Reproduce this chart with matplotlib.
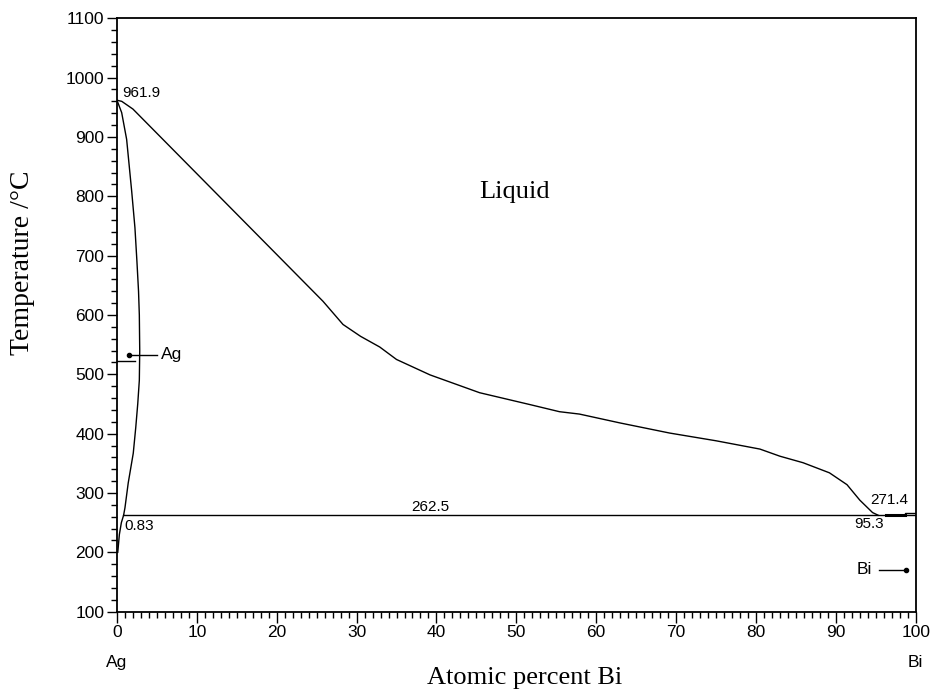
import matplotlib.pyplot as plt
from matplotlib.ticker import MultipleLocator
import matplotlib.transforms as mtransforms

# Ag-Bi phase diagram

# liquidus, Ag side to the eutectic
liq_x = [0, 0.6, 2.0, 25.8, 28.3, 30.5, 32.9,
         35.0, 39.2, 45.4, 51.7, 55.4, 57.9, 63.0, 69.2, 75.0, 80.5, 83.0,
         85.9, 89.2, 91.4, 93.0, 94.6, 95.3]
liq_t = [961.9, 960, 947, 623, 584, 564, 546,
         525, 499, 469, 449, 437, 433, 418, 401, 388, 374, 362,
         351, 334, 314, 288, 267, 262.5]

# solidus of the (Ag) solid solution
sol_x = [0, 0.59, 1.21, 1.84, 2.25, 2.5, 2.7, 2.8, 2.85, 2.8, 2.6, 2.35,
         2.04, 1.7, 1.41, 1.0, 0.83]
sol_t = [961.9, 941, 896, 809, 747, 690, 640, 600, 540, 490, 450, 410,
         367, 340, 317, 275, 262.5]

# solvus below the eutectic
solv_x = [0.83, 0.55, 0.3, 0.1]
solv_t = [262.5, 250, 230, 200]

eut_t = 262.5
eut_x = [0.83, 100]

# small features near pure Bi
bi_x = [98.6, 98.6, 100]
bi_t = [262.5, 267, 267]
bi_thick_x = [96.3, 98.6]

fig = plt.figure(figsize=(9.32, 6.95), dpi=100)
ax = fig.add_axes([0.1255, 0.1199, 0.857, 0.8538])

lw = 1.0
ax.plot(liq_x, liq_t, color='black', lw=lw)
ax.plot(sol_x, sol_t, color='black', lw=lw)
ax.plot(solv_x, solv_t, color='black', lw=lw)
ax.plot(eut_x, [eut_t, eut_t], color='black', lw=lw)
ax.plot(bi_x, bi_t, color='black', lw=lw)
ax.plot(bi_thick_x, [eut_t, eut_t], color='black', lw=2.2)
ax.plot([0, 2.25], [522, 522], color='black', lw=lw)

# pure element markers
ax.plot([1.54, 5.0], [533, 533], color='black', lw=lw)
ax.plot([1.54], [533], 'o', color='black', ms=3)
ax.text(5.5, 533, 'Ag', fontsize=12.5, family='Liberation Sans', va='center', ha='left')
ax.plot([95.4, 98.8], [171, 171], color='black', lw=lw)
ax.plot([98.8], [171], 'o', color='black', ms=3)
ax.text(92.6, 171, 'Bi', fontsize=12.5, family='Liberation Sans', va='center', ha='left')

# annotations
sans = dict(fontsize=11, family='Liberation Sans')
ax.text(0.7, 962, '961.9', ha='left', va='bottom', **sans)
ax.text(0.95, 244, '0.83', ha='left', va='center', **sans)
ax.text(39.2, 276, '262.5', ha='center', va='center', **sans)
ax.text(94.2, 247, '95.3', ha='center', va='center', **sans)
ax.text(96.7, 289, '271.4', ha='center', va='center', **sans)
ax.text(49.8, 808, 'Liquid', ha='center', va='center', fontsize=19,
        family='Liberation Serif')

ax.set_xlim(0, 100)
ax.set_ylim(100, 1100)
ax.xaxis.set_major_locator(MultipleLocator(10))
ax.xaxis.set_minor_locator(MultipleLocator(1))
ax.yaxis.set_major_locator(MultipleLocator(100))
ax.yaxis.set_minor_locator(MultipleLocator(20))
ax.tick_params(axis='both', which='both', direction='out', top=False, right=False,
               width=1.0, labelsize=12.5)
ax.tick_params(axis='x', which='major', length=8, pad=1.5)
ax.tick_params(axis='x', which='minor', length=4.5)
ax.tick_params(axis='y', which='major', length=7.5, pad=1.5)
ax.tick_params(axis='y', which='minor', length=4)
for lab in ax.get_xticklabels() + ax.get_yticklabels():
    lab.set_family('Liberation Sans')
for sp in ax.spines.values():
    sp.set_linewidth(1.3)

trans = mtransforms.blended_transform_factory(ax.transData, ax.transAxes)
ax.text(0, -0.086, 'Ag', transform=trans, ha='center', va='center',
        fontsize=12.5, family='Liberation Sans')
ax.text(100, -0.086, 'Bi', transform=trans, ha='center', va='center',
        fontsize=12.5, family='Liberation Sans')

fig.text(0.563, 0.024, 'Atomic percent Bi', ha='center', va='center',
         fontsize=19, family='Liberation Serif')
fig.text(0.024, 0.6216, 'Temperature /°C', ha='center', va='center', rotation=90,
         fontsize=20, family='Liberation Serif')

fig.savefig('out.png', dpi=100)
